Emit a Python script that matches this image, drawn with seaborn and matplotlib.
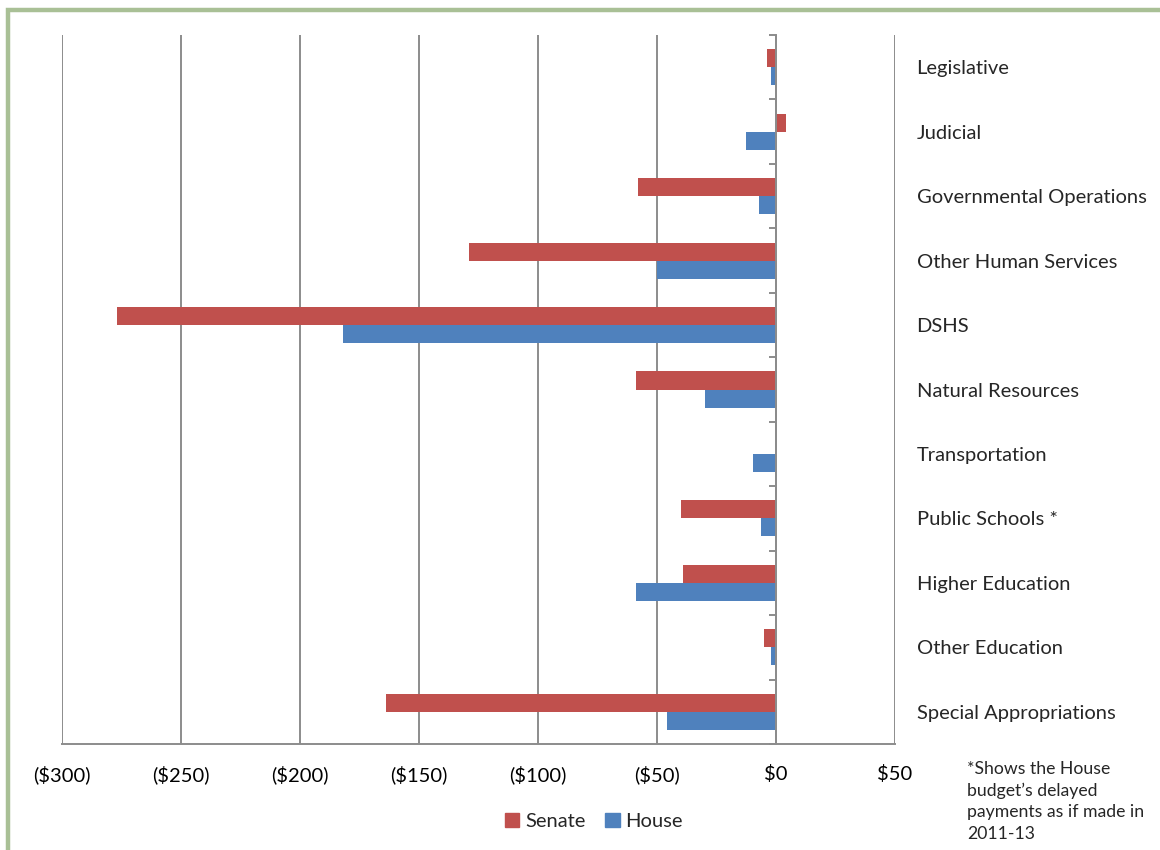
import pandas as pd
import matplotlib.pyplot as plt
import matplotlib.patches as mpatches
import seaborn as sns

# Budget changes by area, millions of dollars (Senate vs House proposals)
categories = ["Legislative", "Judicial", "Governmental Operations", "Other Human Services",
              "DSHS", "Natural Resources", "Transportation", "Public Schools *",
              "Higher Education", "Other Education", "Special Appropriations"]
senate = [-4, 4, -58, -129, -277, -59, 0, -40, -39, -5, -164]
house = [-2, -12.5, -7, -50, -182, -30, -9.5, -6.5, -59, -2, -46]
xticks = [-300, -250, -200, -150, -100, -50, 0, 50]
footnote = "*Shows the House\nbudget\u2019s delayed\npayments as if made in\n2011-13"

df = pd.DataFrame({
    "Category": categories * 2,
    "Value": senate + house,
    "Chamber": ["Senate"] * len(categories) + ["House"] * len(categories),
})

sns.set_style("white")
plt.rcParams["font.family"] = ["Lato", "DejaVu Sans"]
FS = 14.5
GRAY = "#8c8c8c"
colors = {"Senate": "#C0504D", "House": "#4F81BD"}

fig = plt.figure(figsize=(11.6, 8.5), dpi=100)
ax = fig.add_axes([0.0534, 0.1247, 0.7182, 0.8341])

sns.barplot(data=df, x="Value", y="Category", hue="Chamber", hue_order=["Senate", "House"],
            palette=colors, orient="h", width=0.56, saturation=1, linewidth=0,
            ax=ax, legend=False)

ax.set_xlim(-300, 50)
ax.set_ylim(len(categories) - 0.5, -0.5)
ax.set_xticks(xticks)
ax.set_xticklabels([f"(${-v})" if v < 0 else f"${v}" for v in xticks], fontsize=FS)
ax.set_xlabel("")
ax.set_ylabel("")

# vertical gridlines
ax.grid(axis="x", color=GRAY, linewidth=1.4)
ax.grid(axis="y", visible=False)
ax.set_axisbelow(True)

for s in ["top", "right"]:
    ax.spines[s].set_visible(False)
ax.spines["bottom"].set_color(GRAY)
ax.spines["bottom"].set_linewidth(1.4)
ax.spines["left"].set_position(("data", 0))
ax.spines["left"].set_color(GRAY)
ax.spines["left"].set_linewidth(1.4)

ax.tick_params(axis="x", direction="out", length=6, width=1.4, color=GRAY, pad=9,
               labelcolor="black")
ax.set_yticks(range(len(categories)))
ax.set_yticklabels(categories, fontsize=FS)
ax.set_yticks([i - 0.5 for i in range(len(categories) + 1)], minor=True)
ax.tick_params(axis="y", which="major", left=False, right=False,
               labelleft=False, labelright=True, pad=12)
ax.tick_params(axis="y", which="minor", left=True, right=False, direction="out",
               length=5, width=1.4, color=GRAY)
for lbl in ax.get_yticklabels():
    lbl.set_horizontalalignment("left")

handles = [mpatches.Patch(color=colors[k], label=k) for k in ["Senate", "House"]]
fig.legend(handles=handles, loc="center", bbox_to_anchor=(0.512, 0.034), ncol=2,
           frameon=False, fontsize=FS, handlelength=0.7, handleheight=0.7,
           handletextpad=0.3, columnspacing=1.0)

fig.text(0.834, 0.105, footnote, fontsize=12.7, va="top", ha="left", linespacing=1.42)

# green frame, running off the right and bottom edges
frame = mpatches.Rectangle((8 / 1160, -0.2), 1.5, 1.2 - 10 / 850, transform=fig.transFigure,
                           fill=False, edgecolor="#A9C096", linewidth=3.2, clip_on=False)
fig.patches.append(frame)

fig.savefig("out.png", dpi=100)
